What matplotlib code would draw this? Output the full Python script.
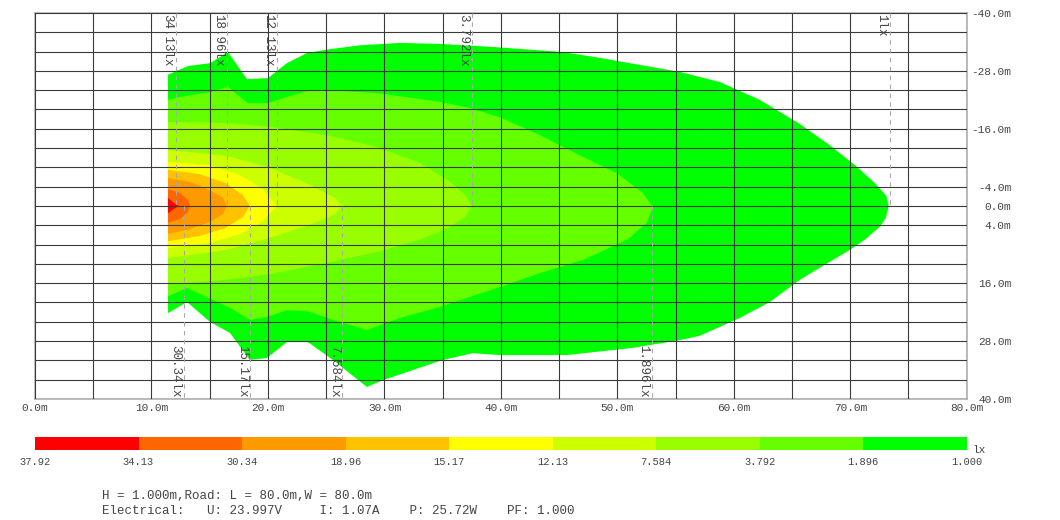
import numpy as np
import matplotlib
matplotlib.use('Agg')
import matplotlib.pyplot as plt

plt.rcParams['font.family'] = ['Liberation Mono', 'DejaVu Sans Mono']

# colour scale (lx)
scale_labels = ['37.92', '34.13', '30.34', '18.96', '15.17', '12.13', '7.584', '3.792', '1.896', '1.000']
scale_colors = ['#ff0000', '#ff6600', '#ff9900', '#ffc200', '#ffff00',
                '#ccff00', '#99ff00', '#66ff00', '#00ff00']

# isolux outlines (x along road in m, y across in m), outermost first
iso_1_x = [11.42, 13.13, 15.02, 16.57, 18.20, 20.00, 21.63, 23.35, 25.32, 27.90, 31.33, 34.76,
           39.66, 45.32, 48.50, 51.07, 55.36, 58.80, 62.23, 65.67, 68.24, 70.39, 72.10, 73.10,
           73.30, 73.05, 72.50, 71.24, 69.96, 67.38, 65.67, 63.09, 60.52, 57.08, 55.36, 51.33,
           45.67, 39.91, 37.60, 35.02, 29.87, 28.50, 25.58, 23.43, 21.63, 19.91, 18.45, 16.74,
           15.02, 13.05, 11.42]
iso_1_y = [-27.2, -29.0, -29.6, -31.9, -26.3, -26.5, -29.6, -31.7, -32.5, -33.3, -33.8, -33.6,
           -32.9, -31.9, -30.7, -29.6, -27.8, -25.7, -22.0, -17.0, -12.6, -8.5, -4.8, -2.1,
           0.0, 2.5, 4.4, 7.0, 9.1, 12.8, 15.3, 19.9, 23.2, 26.9, 27.8, 29.4,
           30.9, 30.9, 30.5, 31.9, 36.1, 37.5, 31.9, 28.2, 28.2, 31.5, 31.9, 26.3,
           24.0, 19.9, 22.2]

iso_1896_x = [11.42, 12.45, 15.02, 16.57, 18.28, 19.91, 21.63, 23.35, 25.06, 29.36, 34.76, 37.34,
              39.91, 43.35, 47.04, 49.96, 52.19, 53.05, 52.53, 50.82, 47.04, 43.35, 39.91, 34.76,
              31.33, 28.50, 25.58, 23.43, 21.63, 19.91, 18.45, 16.74, 13.05, 11.42]
iso_1896_y = [-22.0, -22.6, -23.6, -24.7, -21.3, -21.3, -22.6, -23.8, -24.0, -23.4, -21.6, -20.3,
              -18.4, -14.7, -10.2, -6.8, -2.7, 0.2, 3.5, 7.0, 11.2, 13.9, 16.8, 20.9,
              23.2, 25.7, 23.6, 21.8, 21.6, 23.0, 23.6, 21.1, 17.0, 18.7]

iso_3792_x = [11.42, 16.48, 20.17, 25.06, 29.36, 33.05, 35.45, 36.91, 37.51, 36.91, 35.45, 33.05,
              29.36, 25.06, 20.17, 16.48, 11.42]
iso_3792_y = [-17.4, -17.2, -16.4, -14.7, -12.2, -8.9, -5.4, -2.3, 0.0, 2.3, 4.6, 7.0,
              9.5, 11.8, 14.1, 15.3, 16.2]

iso_7584_x = [11.42, 16.48, 20.17, 23.61, 25.75, 26.35, 25.75, 23.61, 20.17, 16.48, 11.42]
iso_7584_y = [-11.6, -10.4, -7.9, -4.4, -1.7, 0.0, 1.7, 3.9, 6.6, 9.1, 10.8]

iso_1213_x = [11.42, 15.02, 17.60, 19.48, 20.77, 19.48, 17.60, 15.02, 11.42]
iso_1213_y = [-9.1, -8.5, -6.4, -3.7, 0.0, 3.3, 5.8, 7.7, 8.7]

iso_1517_x = [11.42, 14.16, 16.31, 17.85, 18.45, 17.85, 16.31, 14.16, 11.42]
iso_1517_y = [-7.5, -6.6, -4.8, -2.3, 0.0, 2.3, 4.6, 6.2, 7.3]

iso_1896b_x = [11.42, 13.30, 15.02, 16.14, 16.48, 16.14, 15.02, 13.30, 11.42]
iso_1896b_y = [-5.8, -5.0, -3.3, -1.7, 0.0, 1.7, 3.3, 4.8, 5.8]

iso_3034_x = [11.42, 12.45, 13.13, 13.30, 13.13, 12.45, 11.42]
iso_3034_y = [-3.5, -2.7, -1.2, 0.0, 1.2, 2.7, 3.5]

iso_3413_x = [11.42, 11.93, 12.35, 11.93, 11.42]
iso_3413_y = [-1.7, -0.6, 0.0, 0.6, 1.5]

outlines = [(iso_1_x, iso_1_y), (iso_1896_x, iso_1896_y), (iso_3792_x, iso_3792_y),
            (iso_7584_x, iso_7584_y), (iso_1213_x, iso_1213_y), (iso_1517_x, iso_1517_y),
            (iso_1896b_x, iso_1896b_y), (iso_3034_x, iso_3034_y), (iso_3413_x, iso_3413_y)]

# contour value markers: label, x where contour meets the axis
top_marks = ['34.13lx', '18.96lx', '12.13lx', '3.792lx', '1lx']
top_marks_x = [12.1, 16.5, 20.8, 37.5, 73.4]
bot_marks = ['30.34lx', '15.17lx', '7.584lx', '1.896lx']
bot_marks_x = [12.8, 18.5, 26.4, 53.0]

x_ticks = [0, 10, 20, 30, 40, 50, 60, 70, 80]
y_ticks = [-40, -28, -16, -4, 0, 4, 16, 28, 40]

fig = plt.figure(figsize=(10.6, 5.2), dpi=100)
ax = fig.add_axes([0.033, 0.2327, 0.879, 0.7423])

# colour fills, outer to inner
fill_colors = scale_colors[::-1]
for (xs, ys), c in zip(outlines, fill_colors):
    ax.fill(xs, ys, color=c, lw=0, zorder=1)

ax.set_xlim(0, 80)
ax.set_ylim(40, -40)
ax.set_xticks(x_ticks)
ax.set_xticklabels(['%.1fm' % v for v in x_ticks], fontsize=8, color='#444444')
ax.set_yticks(y_ticks)
ax.set_yticklabels(['%.1fm' % v for v in y_ticks], fontsize=8, color='#444444')
ax.set_xticks(np.arange(0, 81, 5), minor=True)
ax.set_yticks(np.arange(-40, 41, 4), minor=True)
ax.grid(which='both', color='#3a3a3a', lw=0.8, zorder=2)
ax.set_axisbelow(False)
ax.yaxis.tick_right()
ax.tick_params(which='both', length=0)
ax.tick_params(axis='x', pad=3)
ax.tick_params(axis='y', pad=32)
for lab in ax.get_yticklabels():
    lab.set_horizontalalignment('right')
for s in ax.spines.values():
    s.set_color('#b0b0b0')
    s.set_linewidth(1.2)

# dashed marker lines with labels
for lab, xv in zip(top_marks, top_marks_x):
    ax.plot([xv, xv], [-40, 0], ls=(0, (4, 4)), color='#a8a8a8', lw=0.8, zorder=3)
    ax.annotate(lab, (xv, -40), xytext=(-2, -1), textcoords='offset points',
                rotation=270, ha='right', va='top', fontsize=9, color='#444444', zorder=4)
for lab, xv in zip(bot_marks, bot_marks_x):
    ax.plot([xv, xv], [0, 40], ls=(0, (4, 4)), color='#a8a8a8', lw=0.8, zorder=3)
    ax.annotate(lab, (xv, 40), xytext=(-2, 1), textcoords='offset points',
                rotation=270, ha='right', va='bottom', fontsize=9, color='#444444', zorder=4)

# colour scale bar
cax = fig.add_axes([0.033, 0.1346, 0.879, 0.025])
cax.bar(np.arange(len(scale_colors)), 1, width=1, align='edge', color=scale_colors, lw=0)
cax.set_xlim(0, len(scale_colors))
cax.set_ylim(0, 1)
cax.axis('off')
for i, lab in enumerate(scale_labels):
    cax.annotate(lab, (i, 0), xytext=(0, -5), textcoords='offset points',
                 ha='center', va='top', fontsize=7.5, color='#444444', annotation_clip=False)
cax.annotate('lx', (len(scale_colors), 0), xytext=(4, 0), textcoords='offset points',
             ha='left', va='center', fontsize=8, color='#444444', annotation_clip=False)

fig.text(0.0962, 0.046, 'H = 1.000m,Road: L = 80.0m,W = 80.0m',
         fontsize=9, color='#444444', va='center')
fig.text(0.0962, 0.0173, 'Electrical:   U: 23.997V     I: 1.07A    P: 25.72W    PF: 1.000',
         fontsize=9, color='#444444', va='center')

fig.savefig('out.png', dpi=100)
